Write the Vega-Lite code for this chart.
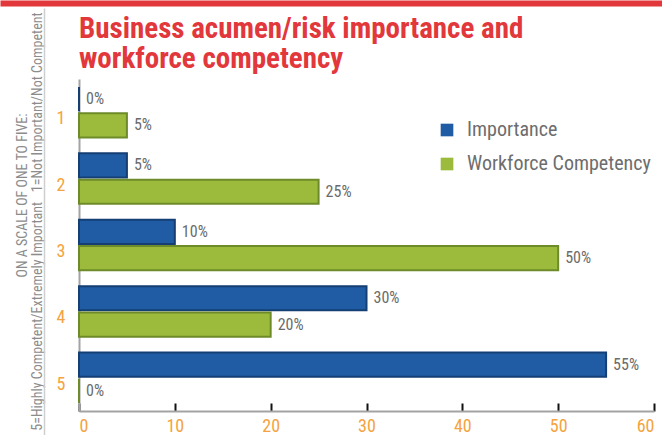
{
  "$schema": "https://vega.github.io/schema/vega-lite/v6.json",
  "width": 575,
  "height": 332,
  "autosize": "none",
  "padding": {"left": 79, "top": 79, "right": 8, "bottom": 24},
  "background": "white",
  "config": {"view": {"stroke": null}, "font": "Roboto Condensed, Roboto"},
  "title": {
    "text": ["Business acumen/risk importance and", "workforce competency"],
    "anchor": "start",
    "frame": "group",
    "color": "#e2373b",
    "fontSize": 29,
    "fontWeight": "bold",
    "font": "Roboto Condensed, Roboto",
    "lineHeight": 30,
    "offset": -71
  },
  "data": {
    "values": [
      {"rating": "1", "series": "Importance", "value": 0, "label": "0%"},
      {"rating": "1", "series": "Workforce Competency", "value": 5, "label": "5%"},
      {"rating": "2", "series": "Importance", "value": 5, "label": "5%"},
      {"rating": "2", "series": "Workforce Competency", "value": 25, "label": "25%"},
      {"rating": "3", "series": "Importance", "value": 10, "label": "10%"},
      {"rating": "3", "series": "Workforce Competency", "value": 50, "label": "50%"},
      {"rating": "4", "series": "Importance", "value": 30, "label": "30%"},
      {"rating": "4", "series": "Workforce Competency", "value": 20, "label": "20%"},
      {"rating": "5", "series": "Importance", "value": 55, "label": "55%"},
      {"rating": "5", "series": "Workforce Competency", "value": 0, "label": "0%"}
    ]
  },
  "layer": [
    {
      "encoding": {
        "y": {
          "field": "rating",
          "type": "nominal",
          "sort": ["1", "2", "3", "4", "5"],
          "scale": {"paddingInner": 0.24, "paddingOuter": 0.12},
          "axis": {
            "title": "5=Highly Competent/Extremely Important\u00a0\u00a0\u00a01=Not Important/Not Competent",
            "titleFontSize": 14,
            "titleFontWeight": "normal",
            "titleColor": "#8c8c8c",
            "titleAngle": 270,
            "titleBaseline": "alphabetic",
            "titleAlign": "center",
            "titleX": -38,
            "titleY": 142,
            "labelColor": "#f4a340",
            "labelFontSize": 18,
            "labelPadding": 14,
            "labelAngle": 0,
            "labelBaseline": "top",
            "labelOffset": -2,
            "ticks": false,
            "domainColor": "#a3a3a3",
            "domainWidth": 2
          }
        },
        "yOffset": {
          "field": "series",
          "sort": ["Importance", "Workforce Competency"],
          "scale": {"paddingInner": 0.08}
        },
        "x": {
          "field": "value",
          "type": "quantitative",
          "scale": {"domain": [0, 60]},
          "axis": {
            "values": [0, 10, 20, 30, 40, 50, 60],
            "title": null,
            "grid": false,
            "labelColor": "#f4a340",
            "labelFontSize": 18,
            "tickColor": "#111111",
            "tickWidth": 2,
            "tickSize": -8,
            "labelPadding": 14,
            "domainColor": "#a3a3a3",
            "domainWidth": 2
          }
        }
      },
      "layer": [
        {
          "mark": {"type": "bar", "strokeWidth": 2},
          "encoding": {
            "color": {
              "field": "series",
              "type": "nominal",
              "scale": {"domain": ["Importance", "Workforce Competency"], "range": ["#1f5ca3", "#9cbb3c"]},
              "legend": {
                "orient": "none",
                "legendX": 358,
                "legendY": 41,
                "padding": 0,
                "title": null,
                "symbolType": "square",
                "symbolSize": 160,
                "symbolOpacity": 1,
                "symbolStrokeWidth": 0,
                "labelFontSize": 20,
                "labelColor": "#6d6d6d",
                "labelLimit": 400,
                "labelOffset": 10,
                "rowPadding": 14
              }
            },
            "stroke": {
              "field": "series",
              "type": "nominal",
              "scale": {"domain": ["Importance", "Workforce Competency"], "range": ["#153f74", "#6e8b2a"]},
              "legend": null
            }
          }
        },
        {
          "mark": {"type": "text", "align": "left", "baseline": "middle", "dx": 7, "fontSize": 16, "color": "#6b6b6b"},
          "encoding": {"text": {"field": "label"}}
        }
      ]
    },
    {
      "mark": {"type": "point", "opacity": 0},
      "encoding": {
        "x": {
          "field": "value",
          "type": "quantitative",
          "scale": {"domain": [0, 60], "range": [-79, 583]},
          "axis": {"orient": "top", "offset": 76, "domain": true, "domainColor": "#e2373b", "domainWidth": 6, "labels": false, "ticks": false, "grid": false, "title": null}
        },
        "y": {"field": "rating", "type": "nominal", "axis": null}
      }
    },
    {
      "mark": {"type": "point", "opacity": 0},
      "encoding": {
        "y": {
          "field": "value",
          "type": "quantitative",
          "scale": {"domain": [0, 60], "range": [356, -71]},
          "axis": {
            "orient": "left",
            "offset": 35,
            "domain": true,
            "domainColor": "#cfcfcf",
            "domainWidth": 1.5,
            "labels": false,
            "ticks": false,
            "grid": false,
            "title": "ON A SCALE OF ONE TO FIVE:",
            "titleFontSize": 14,
            "titleFontWeight": "normal",
            "titleColor": "#8c8c8c",
            "titleAngle": 270,
            "titleBaseline": "alphabetic",
            "titleAlign": "center",
            "titleX": -18,
            "titleY": 116
          }
        },
        "x": {"field": "value", "type": "quantitative", "axis": null}
      }
    }
  ],
  "resolve": {
    "scale": {"x": "independent", "y": "independent"},
    "axis": {"x": "independent", "y": "independent"}
  }
}
